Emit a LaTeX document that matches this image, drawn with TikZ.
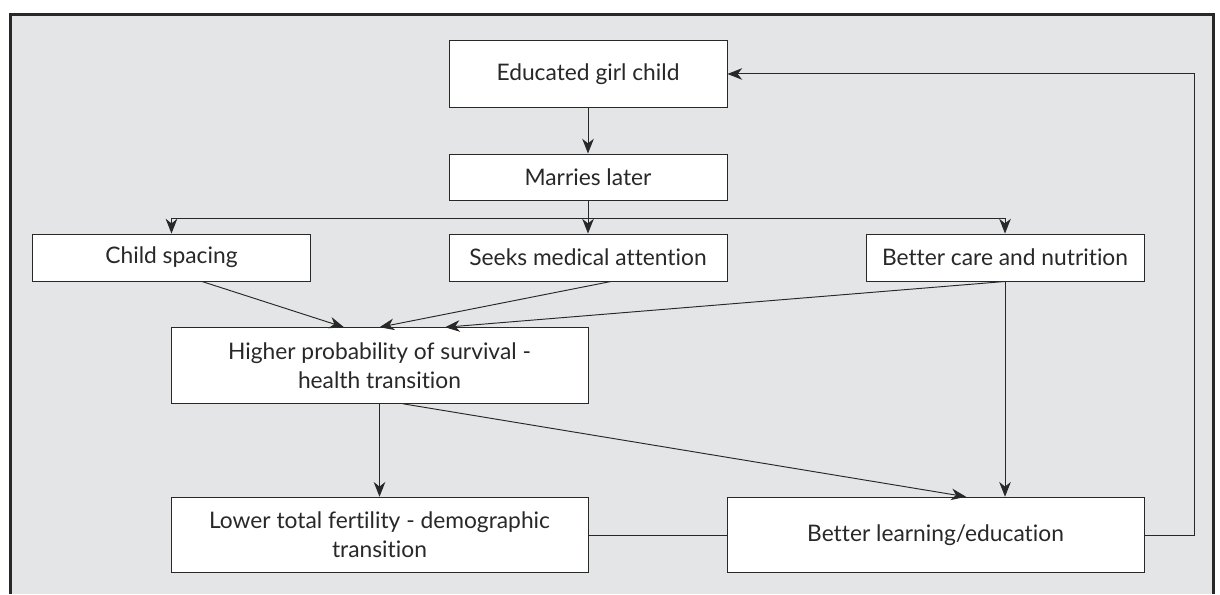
\documentclass[tikz,border=0pt]{standalone}
\usepackage{fontspec}
\setmainfont{Lato}[Ligatures=NoCommon]
\usetikzlibrary{calc,arrows.meta}

\definecolor{panel}{RGB}{228,229,231}
\definecolor{ink}{RGB}{40,40,40}

\begin{document}
\begin{tikzpicture}[>={Stealth[length=7pt,width=5.5pt,inset=2.2pt]}, line width=0.45pt, draw=ink,
  box/.style={draw=ink, fill=white, text=ink, minimum width=4.633cm, minimum height=0.783cm,
    inner sep=0pt, font=\fontsize{10.8}{13.7}\selectfont},
  bigbox/.style={box, minimum width=6.95cm, minimum height=1.26cm, align=center}]

  \useasboundingbox (0,0) rectangle (20.333,9.9);
  \fill[panel] (0.175,0) rectangle (20.225,9.658);
  \draw[ink, line width=1.4pt] (0.175,0) -- (0.175,9.658) -- (20.225,9.658) -- (20.225,0);

  \node[box, minimum height=1.1cm] (edu) at (9.8,8.667) {Educated girl child};
  \node[box, minimum height=0.767cm] (mar) at (9.8,6.95) {Marries later};
  \node[box] (child) at (2.858,5.608) {Child spacing};
  \node[box] (seek) at (9.8,5.608) {Seeks medical attention};
  \node[box] (care) at (16.75,5.608) {Better care and nutrition};
  \node[bigbox] (high) at (6.325,3.808) {Higher probability of survival -\\health transition};
  \node[bigbox] (low) at (6.325,0.983) {Lower total fertility - demographic\\transition};
  \node[bigbox] (learn) at (15.592,0.983) {Better learning/education};

  \coordinate (split) at (9.8,6.267);
  \coordinate (loop) at (19.9,0.983);

  \draw[->] (edu) -- (mar);
  \draw (mar) -- (split);
  \draw[->] (split) -| (child);
  \draw[->] (split) -- (seek);
  \draw[->] (split) -| (care);

  \draw[->] ($(child.south) + (0.508,0)$) -- ($(high.north) + (-0.592,0)$);
  \draw[->] ($(seek.south) + (0.383,0)$) -- (high.north);
  \draw[->] (care.south) -- ($(high.north) + (1.092,0)$);
  \draw[->] (care.south) -- (care.south |- learn.north);

  \draw[->] (high) -- (low);
  \draw[->] ($(high.south) + (0.392,0)$) -- ($(learn.north) + (0.508,0)$);
  \draw (low) -- (learn);
  \draw[->] (learn.east) -- (loop) |- (edu.east);

\end{tikzpicture}
\end{document}
